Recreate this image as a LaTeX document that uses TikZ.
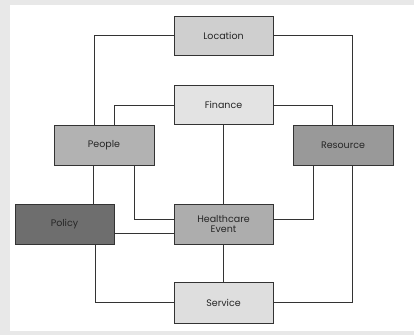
\documentclass[tikz,border=0pt]{standalone}
\usepackage{fontspec}
\setmainfont{Poppins}
\begin{document}
\begin{tikzpicture}[x=1pt,y=-1pt,
  box/.style={draw=black!80,line width=0.8pt,minimum width=99pt,minimum height=39pt,inner sep=0pt,font=\fontsize{9.5}{10.5}\selectfont,text=black!85,align=center},
  link/.style={draw=black!80,line width=0.7pt}]
\useasboundingbox (0,0) rectangle (414,335);
\fill[black!9] (0,0) rectangle (414,335);
\fill[white] (10,5) rectangle (414,331);
\node[box,fill=black!19] (loc) at (223.5,35.5) {Location};
\node[box,fill=black!11] (fin) at (223.5,105) {Finance};
\node[box,fill=black!30,minimum width=100pt,minimum height=40pt] (peo) at (104,145) {People};
\node[box,fill=black!40,minimum width=100pt,minimum height=40pt] (res) at (343,145) {Resource};
\node[box,fill=black!57,minimum height=40pt] (pol) at (64.5,224) {Policy};
\node[box,fill=black!32,minimum height=40pt] (hce) at (223.5,224) {Healthcare\\Event};
\node[box,fill=black!13,minimum height=41pt] (ser) at (223.5,302.5) {Service};
\draw[link] (loc.west) -| ([xshift=-10pt]peo.north);
\draw[link] (loc.east) -| ([xshift=9pt]res.north);
\draw[link] (fin.west) -| ([xshift=10pt]peo.north);
\draw[link] (fin.east) -| ([xshift=-11pt]res.north);
\draw[link] (fin) -- (hce);
\draw[link] ([xshift=-11pt]peo.south) -- ([xshift=-11pt]peo.south |- pol.north);
\draw[link] ([xshift=30pt]peo.south) |- ([yshift=5pt]hce.west);
\draw[link] ([xshift=-30pt]res.south) |- ([yshift=5pt]hce.east);
\draw[link] ([yshift=-9pt]pol.east) -- ([yshift=-9pt]hce.west);
\draw[link] ([xshift=30.5pt]pol.south) |- (ser.west);
\draw[link] (hce) -- (ser);
\draw[link] ([xshift=9pt]res.south) |- (ser.east);
\end{tikzpicture}
\end{document}
